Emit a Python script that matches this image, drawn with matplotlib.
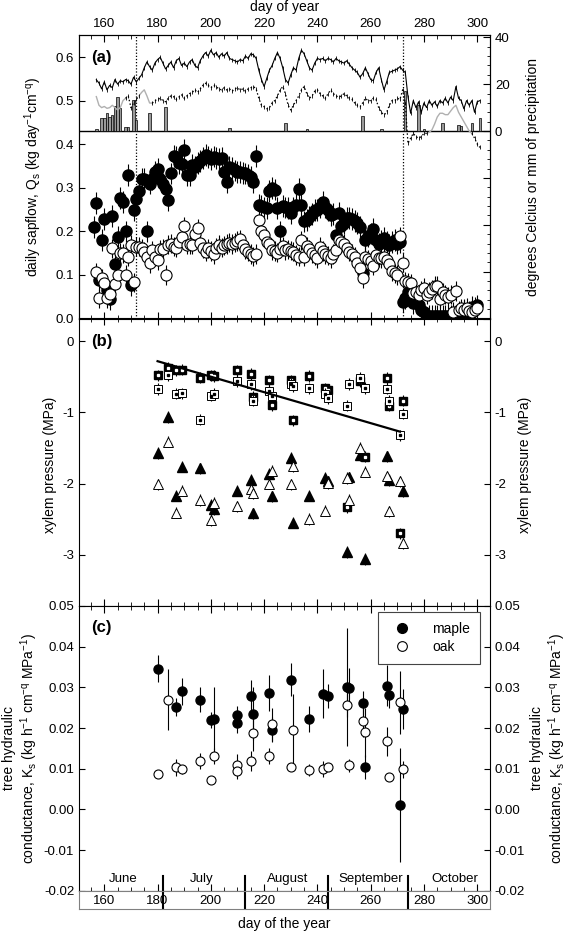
import numpy as np
import matplotlib.pyplot as plt
from matplotlib.lines import Line2D
from matplotlib.ticker import MultipleLocator, FixedLocator, FormatStrFormatter

plt.rcParams['font.family'] = ['Liberation Sans', 'DejaVu Sans']
plt.rcParams['axes.unicode_minus'] = False
plt.rcParams['mathtext.default'] = 'regular'
plt.rcParams['font.size'] = 9.5

# ---------------------------------------------------------------
# panel (a) top: weather (right axis, deg C or mm)
wx_days = np.arange(157, 302)
tmax = [21.9, 20.5, 18, 21, 17.6, 19.5, 18.5, 22, 20, 21.5,
        21, 22, 21.5, 20, 23, 21, 22.5, 24, 27, 29.5,
        27.5, 26, 29, 30.5, 31.5, 29, 26.5, 28, 29.5, 27,
        30, 31, 28, 29, 27.5, 29.5, 30.5, 28, 27, 30,
        32, 33.5, 32, 34.5, 32.5, 33.5, 31.5, 33, 32, 33.5,
        31, 30.5, 30, 29.5, 30.5, 30, 32, 31, 33, 32.5,
        31, 26, 22, 19, 22.5, 26, 28, 31, 33.5, 31,
        27, 22, 20.5, 24, 27, 26, 31, 34.5, 33, 30,
        27, 26, 29, 31, 30.5, 31, 30, 31, 30.5, 29.5,
        31, 30, 29.5, 29, 30, 28.5, 27, 26, 25, 23,
        24.5, 27, 24.5, 22, 21.5, 25, 27, 22, 17.6, 21,
        25, 25.5, 26, 26.5, 27.5, 26, 25, 14.7, 7.6, 13,
        10, 12.5, 8, 12, 10, 13, 11, 12.5, 10.5, 13,
        12, 14, 12, 14.5, 13, 19, 14, 13, 9.5, 13,
        11, 13, 8, 12.5, 13]
tmin = [14.7, 11, 10, 10.5, 9.7, 10, 11, 10, 9, 10,
        13, 14, 15, 10, 12, 13.5, 15, 16.5, 17.6, 15,
        12, 11.9, 13, 13.5, 14, 13, 12.5, 14, 15, 14.7,
        13.5, 14.5, 15.5, 14, 15, 16, 16.5, 17.6, 16.5, 18,
        19.5, 20.4, 19.5, 18.5, 19.5, 19, 18, 17.6, 18.5, 17.5,
        18, 17, 18, 18.5, 17.5, 18, 17, 18, 18.5, 19,
        18, 14, 11, 10.4, 9.5, 10, 12, 13, 15, 17.5,
        19, 16, 11, 9, 11, 13, 15, 17.5, 19, 16,
        14, 15, 17, 17.6, 16, 15, 14, 16, 17.5, 16,
        15, 14.5, 15, 16, 15, 14, 13.5, 12, 11, 10.4,
        12, 14, 13, 13, 14, 13.5, 10, 8, 6.9, 8,
        11, 13, 13, 14, 13.5, 17.6, 12, -5.3, -3, -1,
        -2.4, -3, -2.4, -1, -1, -0.5, 0.5, 3, 6, 7.6,
        7.6, 7, 7, 8.5, 10, 11, 8, 6, 4, 2,
        0, -1, -3, -5.5, -7]
# days where tmin is drawn as a grey (gap-filled) line
grey_days = [157, 158, 159, 160, 161, 162, 163, 164, 165, 166, 167,
             174, 175, 176, 177,
             282, 283, 284, 285, 286, 287, 288, 289, 290, 291, 292,
             293, 294, 295, 296, 297]
precip_days = [157, 159, 160, 161, 162, 163, 164, 165, 166, 168, 169, 171,
               172, 177, 183, 207, 228, 236, 257, 264, 273, 278, 280, 287,
               293, 294, 298, 301]
precip_mm = [1, 5.4, 5.4, 7.6, 6, 6.9, 10.7, 14.7, 9.7, 1.9, 1.9, 13.3,
             4.7, 7.6, 10.4, 1.1, 3.3, 0.7, 6.4, 0.8, 16.9, 11, 1, 3.3,
             2.6, 2.2, 3.3, 5.4]

# panel (a) bottom: daily sapflow
sf_days = np.arange(156, 301)
maple_q = [0.21, 0.265, 0.088, 0.18, 0.228, 0.065, 0.045, 0.235, 0.125, 0.187,
           0.276, 0.268, 0.2, 0.33, 0.077, 0.25, 0.274, 0.292, 0.32, 0.32,
           0.2, 0.31, 0.32, 0.337, 0.343, 0.32, 0.31, 0.297, 0.272, 0.333,
           0.373, 0.37, 0.357, 0.355, 0.387, 0.33, 0.33, 0.353, 0.349, 0.357,
           0.362, 0.368, 0.376, 0.37, 0.366, 0.372, 0.368, 0.366, 0.368, 0.337,
           0.314, 0.349, 0.345, 0.34, 0.337, 0.337, 0.335, 0.333, 0.33, 0.326,
           0.314, 0.373, 0.261, 0.258, 0.255, 0.253, 0.293, 0.3, 0.296, 0.253,
           0.2, 0.258, 0.255, 0.253, 0.242, 0.255, 0.261, 0.298, 0.26, 0.223,
           0.226, 0.234, 0.24, 0.249, 0.25, 0.255, 0.268, 0.255, 0.249, 0.237,
           0.24, 0.192, 0.243, 0.213, 0.22, 0.23, 0.23, 0.228, 0.224, 0.219,
           0.21, 0.104, 0.18, 0.19, 0.195, 0.205, 0.18, 0.172, 0.178, 0.184,
           0.175, 0.169, 0.175, 0.181, 0.172, 0.175, 0.039, 0.046, 0.061, 0.05,
           0.036, 0.045, 0.03, 0.02, 0.014, 0.0, 0.005, 0.005, 0.005, 0.005,
           0.005, 0.005, 0.005, 0.005, 0.005, 0.005, 0.005, 0.01, 0.015, 0.02,
           0.01, 0.005, 0.027, 0.025, 0.03]
oak_q = [np.nan,
         0.106, 0.046, 0.092, 0.081, 0.046, 0.056, 0.161, 0.079, 0.1, 0.151,
         0.15, 0.1, 0.142, 0.169, 0.083, 0.165, 0.165, 0.161, 0.153, 0.142,
         0.127, 0.157, 0.142, 0.134, 0.159, 0.16, 0.1, 0.169, 0.172, 0.165,
         0.163, 0.176, 0.188, 0.212, 0.169, 0.17, 0.169, 0.195, 0.207, 0.174,
         0.161, 0.153, 0.161, 0.155, 0.147, 0.163, 0.169, 0.163, 0.168, 0.171,
         0.174, 0.171, 0.174, 0.178, 0.182, 0.169, 0.159, 0.153, 0.148, 0.143,
         0.148, 0.226, 0.201, 0.191, 0.176, 0.171, 0.157, 0.155, 0.151, 0.16,
         0.166, 0.157, 0.159, 0.156, 0.153, 0.146, 0.142, 0.18, 0.142, 0.166,
         0.159, 0.15, 0.145, 0.138, 0.165, 0.155, 0.148, 0.144, 0.138, 0.148,
         0.157, 0.18, 0.175, 0.171, 0.161, 0.153, 0.148, 0.142, 0.128, 0.115,
         0.092, 0.142, 0.136, 0.131, 0.121, 0.146, 0.14, 0.138, 0.142, 0.134,
         0.125, 0.108, 0.104, 0.1, 0.189, 0.128, 0.085, 0.083, 0.081, 0.058,
         0.06, 0.055, 0.065, 0.071, 0.055, 0.062, 0.067, 0.075, 0.075, 0.045,
         0.06, 0.055, 0.05, 0.055, 0.015, 0.063, 0.019, 0.023, 0.02, 0.025,
         0.018, 0.014, 0.02, 0.025]
maple_q_err = 0.025
oak_q_err = 0.022

# panel (b): xylem pressure, predawn (squares) and midday (triangles)
pb_days = [180, 184, 187, 189, 196, 200, 201, 210, 215, 216, 222, 223, 230,
           231, 237, 243, 244, 251, 252, 256, 258, 266, 267, 271, 272]
maple_pd = [-0.48, -0.375, -0.41, -0.40, -0.51, -0.48, -0.49, -0.41, -0.455,
            -0.78, -0.55, -0.90, -0.55, -1.11, -0.49, -0.66, -0.68, -2.33,
            np.nan, -0.56, -1.62, -0.515, -0.905, -2.70, -0.835]
oak_pd = [-0.67, -0.48, -0.735, -0.73, -1.10, -0.765, -0.735, -0.56, -0.60,
          -0.835, -0.695, -0.775, -0.60, -0.63, -0.66, -0.74, -0.80, -0.905,
          -0.60, -0.515, -0.657, -0.666, -0.835, -1.323, -1.018]
maple_md = [-1.57, -1.065, -2.17, -1.76, -1.785, -2.30, -2.36, -2.10, -1.95,
            -2.42, -1.86, -2.18, -1.64, -2.55, -2.17, -1.92, -1.97, -2.96,
            -1.91, -1.60, -3.06, -1.618, -1.948, np.nan, -2.11]
oak_md = [-2.01, -1.41, -2.41, -2.10, -2.23, -2.51, -2.27, -2.32, -2.08,
          -2.13, -2.00, -1.82, -2.01, -1.75, -2.50, -2.38, -1.99, -1.92,
          -2.23, -1.50, -1.83, -1.90, -2.39, -1.97, -2.84]
psi_err = 0.08
reg_days = [180, 271]
reg_vals = [-0.28, -1.27]

# panel (c): tree hydraulic conductance
pc_days = [180, 184, 187, 189, 196, 200, 201, 210, 210, 215, 216, 222, 223,
           230, 231, 237, 242, 244, 251, 252, 257, 258, 266, 267, 271, 272]
maple_ks = [0.0346, np.nan, 0.0252, 0.0290, 0.0270, 0.0219, 0.0223, 0.0233,
            0.0213, 0.0278, 0.0235, 0.0286, 0.0196, 0.0319, np.nan, 0.0221,
            0.0284, 0.0278, 0.0302, 0.0298, 0.0262, 0.0104, 0.0304, 0.0280,
            0.0011, 0.0247]
oak_ks = [0.0086, 0.0269, 0.0103, 0.0098, 0.0119, 0.0072, 0.0131, 0.0110,
          0.0094, 0.0119, 0.0188, 0.0132, 0.0209, 0.0104, 0.0194, 0.0096,
          0.0100, 0.0105, 0.0256, 0.0108, 0.0217, 0.0189, 0.0167, 0.0080,
          0.0263, 0.0098]
maple_ks_err = [0.0033, np.nan, 0.0022, 0.0033, 0.0030, 0.0020, 0.0078,
                0.0020, 0.0025, 0.0040, 0.0065, 0.0045, 0.0030, 0.0040,
                np.nan, 0.0032, 0.0060, 0.0030, 0.0145, 0.0050, 0.0030,
                0.0030, 0.0050, 0.0030, 0.0140, 0.0050]
oak_ks_err = [0.0010, 0.0075, 0.0020, 0.0010, 0.0020, 0.0008, 0.0020,
              0.0025, 0.0020, 0.0025, 0.0045, 0.0020, 0.0040, 0.0010,
              0.0090, 0.0015, 0.0020, 0.0010, 0.0030, 0.0015, 0.0040,
              0.0060, 0.0035, 0.0010, 0.0078, 0.0020]

day_ticks = [160, 180, 200, 220, 240, 260, 280, 300]
month_names = ['June', 'July', 'August', 'September', 'October']
month_mid = [167, 196.5, 229, 260, 291.5]
month_starts = [182, 213, 244, 274]

# ---------------------------------------------------------------
fig = plt.figure(figsize=(5.67, 9.32), dpi=100)


def fy(px):
    return 1 - px / 932.0


L, W = 79 / 567, 411 / 567
ax_a = fig.add_axes([L, fy(318.5), W, fy(35) - fy(318.5)])
ax_b = fig.add_axes([L, fy(606), W, fy(318.5) - fy(606)])
ax_c = fig.add_axes([L, fy(890.7), W, fy(606) - fy(890.7)])
ax_m = fig.add_axes([L, fy(909), W, fy(890.7) - fy(909)])
XLIM = (150.5, 304.8)

for ax in (ax_a, ax_b, ax_c):
    ax.set_xlim(*XLIM)
    ax.set_xticks(day_ticks)
    ax.xaxis.set_minor_locator(MultipleLocator(5))
    ax.tick_params(axis='both', which='both', direction='in', labelsize=9.5)
    ax.tick_params(axis='x', which='major', length=5, top=True, bottom=True,
                   labelbottom=False)
    ax.tick_params(axis='x', which='minor', length=3, top=True, bottom=True)

# --- panel (a)
ax_a.errorbar(sf_days, maple_q, yerr=maple_q_err, fmt='o', ms=8,
              mfc='black', mec='black', ecolor='black', elinewidth=0.8,
              capsize=0, zorder=3)
ax_a.errorbar(sf_days, oak_q, yerr=oak_q_err, fmt='o', ms=8, mfc='white',
              mec='black', mew=0.8, ecolor='black', elinewidth=0.8,
              capsize=0, zorder=4)
ax_a.set_ylim(0, 0.651)
ax_a.set_yticks([0, 0.1, 0.2, 0.3, 0.4, 0.5, 0.6])
ax_a.yaxis.set_major_formatter(FormatStrFormatter('%.1f'))
ax_a.tick_params(axis='y', length=4)
ax_a.axhline(0.431, color='black', lw=1.0, zorder=5)
for d in (172, 272):
    ax_a.axvline(d, color='black', ls=(0, (1, 1.5)), lw=0.9, zorder=2)
ax_a.tick_params(axis='x', labeltop=True)
ax_a.xaxis.set_label_position('top')
ax_a.set_xlabel('day of year', fontsize=10, labelpad=5)
ax_a.text(0.03, 0.922, '(a)', transform=ax_a.transAxes, fontsize=12,
          fontweight='bold', va='center')

ax_t = ax_a.twinx()
ax_t.set_ylim(-80, 41)
ax_t.bar(precip_days, precip_mm, width=0.9, color='#9a9a9a',
         edgecolor='black', linewidth=0.5, zorder=2)
ax_t.plot(wx_days, tmax, color='black', lw=0.8, marker='|', ms=3,
          mew=0.6, zorder=3)
grey_mask = np.isin(wx_days, grey_days)
tmin_arr = np.array(tmin, dtype=float)
grey_ext = grey_mask | np.roll(grey_mask, 1) | np.roll(grey_mask, -1)
ax_t.plot(wx_days, np.where(grey_ext, tmin_arr, np.nan), color='#b0b0b0',
          lw=1.0, zorder=3)
ax_t.plot(wx_days, np.where(grey_mask, np.nan, tmin_arr), color='black',
          lw=0.9, ls=(0, (1.2, 1.8)), marker='|', ms=2.5, mew=0.6, zorder=3)
ax_t.yaxis.set_major_locator(FixedLocator([-80, -60, -40, -20, 0, 20, 40]))
ax_t.set_yticklabels(['', '', '', '', '0', '20', '40'])
ax_t.yaxis.set_minor_locator(MultipleLocator(4))
ax_t.tick_params(axis='y', which='both', direction='in', labelsize=9.5)
ax_t.tick_params(axis='y', which='major', length=5)
ax_t.tick_params(axis='y', which='minor', length=2.5)

# --- panel (b)
ax_b.errorbar(pb_days, maple_md, yerr=psi_err, fmt='^', ms=6.5, mfc='black',
              mec='black', ecolor='black', elinewidth=0.8, capsize=0, zorder=3)
ax_b.errorbar(pb_days, oak_md, yerr=psi_err, fmt='^', ms=6.5, mfc='white',
              mec='black', mew=0.7, ecolor='black', elinewidth=0.8, capsize=0,
              zorder=4)
ax_b.errorbar(pb_days, maple_pd, yerr=psi_err, fmt='s', ms=6, mfc='black',
              mec='black', ecolor='black', elinewidth=0.8, capsize=0, zorder=3)
ax_b.plot(pb_days, maple_pd, ls='none', marker='s', ms=1.4, color='white',
          zorder=3.5)
ax_b.errorbar(pb_days, oak_pd, yerr=psi_err, fmt='s', ms=6, mfc='white',
              mec='black', mew=0.7, ecolor='black', elinewidth=0.8, capsize=0,
              zorder=4)
ax_b.plot(pb_days, oak_pd, ls='none', marker='s', ms=1.4, color='black',
          zorder=4.5)
ax_b.plot(reg_days, reg_vals, color='black', lw=1.6, zorder=5)
ax_b.set_ylim(-3.72, 0.32)
ax_b.set_yticks([-3, -2, -1, 0])
ax_b.tick_params(axis='y', length=4, left=True, right=True, labelleft=True,
                 labelright=True)
ax_b.text(0.03, 0.92, '(b)', transform=ax_b.transAxes, fontsize=12,
          fontweight='bold', va='center')

# --- panel (c)
ax_c.errorbar(pc_days, maple_ks, yerr=maple_ks_err, fmt='o', ms=6.5,
              mfc='black', mec='black', ecolor='black', elinewidth=0.8,
              capsize=0, zorder=3)
ax_c.errorbar(pc_days, oak_ks, yerr=oak_ks_err, fmt='o', ms=6.5, mfc='white',
              mec='black', mew=0.8, ecolor='black', elinewidth=0.8, capsize=0,
              zorder=4)
ax_c.set_ylim(-0.02, 0.05)
ax_c.set_yticks([-0.02, -0.01, 0.0, 0.01, 0.02, 0.03, 0.04, 0.05])
ax_c.yaxis.set_major_formatter(FormatStrFormatter('%.2f'))
ax_c.tick_params(axis='y', length=4, left=True, right=True, labelleft=True,
                 labelright=True)
ax_c.text(0.03, 0.923, '(c)', transform=ax_c.transAxes, fontsize=12,
          fontweight='bold', va='center')
handles = [Line2D([], [], ls='none', marker='o', ms=7, mfc='black',
                  mec='black'),
           Line2D([], [], ls='none', marker='o', ms=7, mfc='white',
                  mec='black', mew=0.8)]
leg = ax_c.legend(handles, ['maple', 'oak'], loc='upper right',
                  bbox_to_anchor=(0.976, 0.979), fontsize=10, frameon=True,
                  fancybox=False, edgecolor='#444444', framealpha=1,
                  borderpad=0.7, handletextpad=1.2, labelspacing=0.3,
                  borderaxespad=0)
leg.get_frame().set_linewidth(0.8)

for name, mid in zip(month_names, month_mid):
    ax_c.text(mid, -0.0171, name, ha='center', va='center', fontsize=9.5)
for d in month_starts:
    ax_c.plot([d, d], [-0.02, -0.0163], color='black', lw=1.5,
              clip_on=False, zorder=6)

# --- month / day box below panel (c)
ax_m.set_xlim(*XLIM)
ax_m.set_ylim(0, 1)
ax_m.set_xticks([])
ax_m.set_yticks([])
for sp in ax_m.spines.values():
    sp.set_color('#808080')
    sp.set_linewidth(0.8)
for d in day_ticks:
    ax_m.text(d, 0.45, str(d), ha='center', va='center', fontsize=9.5)
for d in month_starts:
    ax_m.axvline(d, color='black', lw=1.5)

# --- axis titles
fig.text(0.5 * (79 + 490) / 567, fy(924), 'day of the year', ha='center',
         va='center', fontsize=10)
fig.text(33 / 567, fy(177), 'daily sapflow, Q$_s$ (kg day$^{-1}$cm$^{-q}$)',
         rotation=90, ha='center', va='center', fontsize=10)
fig.text(533 / 567, fy(177), 'degrees Celcius or mm of precipitation',
         rotation=90, ha='center', va='center', fontsize=10)
fig.text(50 / 567, fy(465), 'xylem pressure (MPa)', rotation=90,
         ha='center', va='center', fontsize=10)
fig.text(525 / 567, fy(465), 'xylem pressure (MPa)', rotation=90,
         ha='center', va='center', fontsize=10)
ks_label = 'tree hydraulic\nconductance, K$_s$ (kg h$^{-1}$ cm$^{-q}$ MPa$^{-1}$)'
fig.text(21 / 567, fy(748), ks_label, rotation=90, ha='center', va='center',
         multialignment='center', fontsize=10)
fig.text(549 / 567, fy(748), ks_label, rotation=90, ha='center', va='center',
         multialignment='center', fontsize=10)

fig.savefig('out.png', dpi=100)
